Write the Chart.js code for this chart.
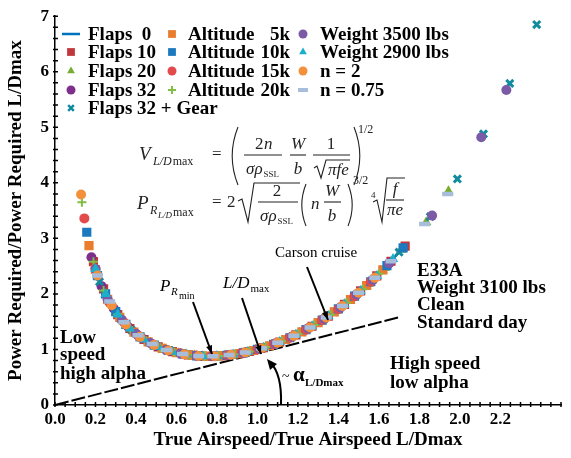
<!DOCTYPE html>
<html>
<head>
<meta charset="utf-8">
<script src="https://cdn.jsdelivr.net/npm/chart.js@4.4.0/dist/chart.umd.min.js"></script>
<style>
html, body { margin: 0; padding: 0; background: #fff; }
</style>
</head>
<body>
<canvas id="graph1" width="571" height="458"></canvas>
<script>
// tangent through L/Dmax
let tangentX = [0, 1.7];
let tangentY = [0, 1.58];

let flaps0X = [0.2,0.25,0.3,0.35,0.4,0.45,0.5,0.55,0.6,0.65,0.7,0.75,0.8,0.85,0.9,0.95,1.0,1.05,1.1,1.15,1.2,1.25,1.3,1.35,1.4,1.45,1.5,1.55,1.6,1.65,1.7];
let flaps0Y = [2.45,2.0,1.68,1.45,1.28,1.157,1.062,0.992,0.941,0.907,0.886,0.877,0.881,0.895,0.92,0.955,1.0,1.055,1.12,1.195,1.281,1.377,1.483,1.601,1.729,1.869,2.021,2.184,2.361,2.549,2.751];

let flaps10X = [0.19,0.24,0.31,0.37,0.44,0.51,0.58,0.66,0.73,0.81,0.88,0.96,1.03,1.11,1.19,1.27,1.35,1.43,1.51,1.59,1.66,1.73];
let flaps10Y = [2.58,2.09,1.628,1.377,1.179,1.047,0.96,0.901,0.879,0.883,0.909,0.963,1.032,1.134,1.263,1.418,1.601,1.812,2.053,2.324,2.588,2.86];

let flaps20X = [0.21,0.27,0.33,0.4,0.47,0.54,0.61,0.69,0.77,0.84,0.92,0.99,1.07,1.15,1.23,1.31,1.39,1.47,1.55,1.63,1.71,1.834,1.944];
let flaps20Y = [2.33,1.862,1.533,1.282,1.116,1.005,0.933,0.889,0.878,0.892,0.933,0.99,1.08,1.195,1.337,1.506,1.702,1.928,2.184,2.472,2.793,3.29,3.85];

let flaps32X = [0.18,0.23,0.29,0.36,0.43,0.5,0.57,0.64,0.72,0.79,0.87,0.94,1.02,1.09,1.17,1.25,1.33,1.41,1.49,1.57,1.65];
let flaps32Y = [2.66,2.14,1.736,1.412,1.203,1.062,0.97,0.912,0.881,0.879,0.904,0.947,1.021,1.106,1.228,1.377,1.552,1.756,1.99,2.253,2.549];

let gearX = [0.22,0.3,0.38,0.46,0.55,0.63,0.71,0.8,0.89,0.97,1.06,1.14,1.22,1.3,1.38,1.46,1.54,1.62,1.7,1.854,1.988,2.117,2.247,2.38];
let gearY = [2.22,1.68,1.343,1.136,0.992,0.919,0.883,0.881,0.914,0.972,1.067,1.179,1.318,1.483,1.676,1.899,2.151,2.434,2.751,3.39,4.07,4.88,5.79,6.85];

let alt5X = [0.168,0.2,0.26,0.32,0.39,0.46,0.53,0.6,0.68,0.75,0.83,0.91,0.98,1.06,1.14,1.22,1.3,1.38,1.46,1.54,1.62];
let alt5Y = [2.87,2.44,1.9,1.579,1.312,1.136,1.018,0.941,0.893,0.877,0.888,0.926,0.981,1.067,1.179,1.318,1.483,1.676,1.899,2.151,2.434];

let alt10X = [0.157,0.21,0.25,0.3,0.35,0.42,0.49,0.56,0.63,0.7,0.78,0.85,0.93,1.0,1.08,1.16,1.24,1.32,1.4,1.48,1.56,1.64,1.72];
let alt10Y = [3.11,2.33,2.0,1.68,1.45,1.227,1.079,0.981,0.919,0.886,0.878,0.895,0.94,1.0,1.093,1.211,1.356,1.529,1.729,1.959,2.219,2.511,2.83];

let alt15X = [0.145,0.2,0.27,0.34,0.41,0.48,0.55,0.62,0.7,0.77,0.85,0.92,1.0,1.08,1.16,1.24,1.32,1.4,1.48,1.56];
let alt15Y = [3.36,2.45,1.84,1.49,1.254,1.097,0.992,0.926,0.886,0.878,0.895,0.933,1.0,1.093,1.211,1.356,1.529,1.729,1.959,2.219];

let alt20X = [0.133,0.19,0.24,0.31,0.38,0.45,0.52,0.59,0.66,0.74,0.81,0.89,0.96,1.04,1.12,1.2,1.28,1.36,1.44,1.52,1.6];
let alt20Y = [3.65,2.58,2.06,1.628,1.343,1.157,1.032,0.95,0.901,0.878,0.883,0.914,0.963,1.043,1.149,1.281,1.439,1.625,1.84,2.085,2.361];

let w3500X = [0.2,0.26,0.33,0.4,0.47,0.55,0.62,0.7,0.78,0.86,0.93,1.01,1.09,1.17,1.25,1.33,1.41,1.49,1.57,1.65,1.863,2.106,2.23];
let w3500Y = [2.45,1.9,1.533,1.282,1.116,0.992,0.926,0.886,0.878,0.899,0.94,1.01,1.106,1.228,1.377,1.552,1.756,1.99,2.253,2.549,3.41,4.82,5.67];

let w2900X = [0.2,0.25,0.31,0.37,0.44,0.51,0.58,0.65,0.73,0.8,0.88,0.95,1.03,1.11,1.19,1.27,1.35,1.43,1.51,1.59,1.67];
let w2900Y = [2.45,2.0,1.628,1.377,1.179,1.047,0.96,0.907,0.879,0.881,0.909,0.955,1.032,1.134,1.263,1.418,1.601,1.812,2.053,2.324,2.628];

let n2X = [0.129,0.21,0.28,0.35,0.42,0.49,0.56,0.64,0.71,0.79,0.87,0.94,1.02,1.1,1.18,1.26,1.34,1.42,1.5,1.58];
let n2Y = [3.79,2.33,1.797,1.45,1.227,1.079,0.981,0.912,0.883,0.879,0.904,0.947,1.021,1.12,1.245,1.397,1.576,1.784,2.021,2.289];

let n075X = [0.21,0.27,0.34,0.41,0.48,0.55,0.63,0.71,0.78,0.86,0.94,1.02,1.1,1.18,1.26,1.34,1.42,1.5,1.58,1.66,1.826,1.94];
let n075Y = [2.33,1.862,1.49,1.254,1.097,0.992,0.919,0.883,0.878,0.899,0.947,1.021,1.12,1.245,1.397,1.576,1.784,2.021,2.289,2.588,3.26,3.8];

const serif = "'Liberation Serif', 'Times New Roman', serif";
Chart.defaults.font.family = serif;
Chart.defaults.color = '#000';

function pts(xs, ys) {
    return xs.map((x, i) => ({x: x, y: ys[i]}));
}

function marker(label, xs, ys, color, style, r, bw) {
    return {
        label: label,
        data: pts(xs, ys),
        showLine: false,
        pointStyle: style,
        pointRadius: r,
        pointBorderWidth: bw,
        pointBackgroundColor: color,
        pointBorderColor: color,
        backgroundColor: color,
        borderColor: color
    };
}

let sets = [
    marker('n = 0.75', n075X, n075Y, '#a7bddc', 'line', 5.5, 4.5),
    marker('n = 2', n2X, n2Y, '#f39039', 'circle', 5, 0),
    marker('Weight 2900 lbs', w2900X, w2900Y, '#1aafcb', 'triangle', 6, 0),
    marker('Weight 3500 lbs', w3500X, w3500Y, '#7b5aa6', 'circle', 5, 0),
    marker('Altitude 20k', alt20X, alt20Y, '#80be44', 'cross', 4.5, 2),
    marker('Altitude 15k', alt15X, alt15Y, '#e24a4c', 'circle', 5, 0),
    marker('Altitude 10k', alt10X, alt10Y, '#1b79bf', 'rect', 6.5, 0),
    marker('Altitude 5k', alt5X, alt5Y, '#e97c2f', 'rect', 6.5, 0),
    marker('Flaps 32 + Gear', gearX, gearY, '#118c9f', 'crossRot', 5, 3),
    marker('Flaps 32', flaps32X, flaps32Y, '#7e2f8e', 'circle', 5, 0),
    marker('Flaps 20', flaps20X, flaps20Y, '#77ac30', 'triangle', 6, 0),
    marker('Flaps 10', flaps10X, flaps10Y, '#c1373a', 'rect', 6.5, 0),
    {
        label: 'Flaps 0',
        data: pts(flaps0X, flaps0Y),
        showLine: true,
        borderColor: '#0072bd',
        borderWidth: 2.5,
        pointRadius: 0
    },
    {
        label: 'tangent',
        data: pts(tangentX, tangentY),
        showLine: true,
        borderColor: '#000',
        borderWidth: 2,
        borderDash: [14, 3],
        pointRadius: 0
    }
];

// legend entries, laid out in three columns like the original
let legendItems = [
    ['Flaps  0', '#0072bd', 'legline', 0, 0],
    ['Flaps 10', '#c1373a', 'rect', 0, 1],
    ['Flaps 20', '#77ac30', 'triangle', 0, 2],
    ['Flaps 32', '#7e2f8e', 'circle', 0, 3],
    ['Flaps 32 + Gear', '#118c9f', 'crossRot', 0, 4],
    ['Altitude', '#e97c2f', 'rect', 1, 0, '5k'],
    ['Altitude', '#1b79bf', 'rect', 1, 1, '10k'],
    ['Altitude', '#e24a4c', 'circle', 1, 2, '15k'],
    ['Altitude', '#80be44', 'cross', 1, 3, '20k'],
    ['Weight 3500 lbs', '#7b5aa6', 'circle', 2, 0],
    ['Weight 2900 lbs', '#1aafcb', 'triangle', 2, 1],
    ['n = 2', '#f39039', 'circle', 2, 2],
    ['n = 0.75', '#a7bddc', 'line', 2, 3]
];

function drawMarker(ctx, style, color, x, y) {
    ctx.fillStyle = color;
    ctx.strokeStyle = color;
    if (style == 'legline') {
        ctx.lineWidth = 2.5;
        ctx.beginPath();
        ctx.moveTo(x - 9, y);
        ctx.lineTo(x + 9, y);
        ctx.stroke();
        return;
    }
    let opt = {pointStyle: style, rotation: 0, radius: 4.5, borderWidth: 0};
    if (style == 'rect') opt.radius = 5.5;
    if (style == 'triangle') opt.radius = 4.5;
    if (style == 'cross') { opt.borderWidth = 2; opt.radius = 4; }
    if (style == 'crossRot') { opt.borderWidth = 2.5; opt.radius = 4; }
    if (style == 'line') { opt.borderWidth = 4; opt.radius = 5; }
    ctx.lineWidth = opt.borderWidth;
    Chart.helpers.drawPoint(ctx, opt, x, y);
}

function txt(ctx, s, x, y, font, align) {
    ctx.font = font;
    ctx.textAlign = align || 'left';
    ctx.fillText(s, x, y);
    return x + ctx.measureText(s).width;
}

function line(ctx, pts) {
    ctx.beginPath();
    ctx.moveTo(pts[0][0], pts[0][1]);
    for (let i = 1; i < pts.length; i++) ctx.lineTo(pts[i][0], pts[i][1]);
    ctx.stroke();
}

function paren(ctx, x, y1, y2, dir) {
    ctx.beginPath();
    ctx.moveTo(x, y1);
    ctx.quadraticCurveTo(x + dir * (y2 - y1) * 0.2, (y1 + y2) / 2, x, y2);
    ctx.stroke();
}

function arrow(ctx, x1, y1, x2, y2) {
    ctx.lineWidth = 2;
    line(ctx, [[x1, y1], [x2, y2]]);
    let a = Math.atan2(y2 - y1, x2 - x1);
    ctx.beginPath();
    ctx.moveTo(x2, y2);
    ctx.lineTo(x2 - 9 * Math.cos(a - 0.35), y2 - 9 * Math.sin(a - 0.35));
    ctx.lineTo(x2 - 9 * Math.cos(a + 0.35), y2 - 9 * Math.sin(a + 0.35));
    ctx.closePath();
    ctx.fill();
}

const extras = {
    id: 'extras',
    afterDraw(chart) {
        const ctx = chart.ctx;
        const a = chart.chartArea;
        const xs = chart.scales.x, ys = chart.scales.y;
        ctx.save();

        // small inward ticks
        ctx.strokeStyle = '#000';
        ctx.lineWidth = 1.5;
        ctx.beginPath();
        for (let i = 0; i <= 50; i++) {
            let px = xs.getPixelForValue(i * 0.05);
            ctx.moveTo(px, a.bottom + 2);
            ctx.lineTo(px, a.bottom - 3);
        }
        for (let i = 0; i <= 35; i++) {
            let py = ys.getPixelForValue(i * 0.2);
            ctx.moveTo(a.left - 2, py);
            ctx.lineTo(a.left + 3, py);
        }
        ctx.stroke();

        // legend
        const colX = [71, 172, 303];
        const txtX = [88, 188, 320];
        const rowY = [34, 52, 71, 90, 108];
        const bold = 'bold 19px ' + serif;
        ctx.textBaseline = 'middle';
        legendItems.forEach(it => {
            drawMarker(ctx, it[2], it[1], colX[it[3]], rowY[it[4]]);
            ctx.fillStyle = '#000';
            txt(ctx, it[0], txtX[it[3]], rowY[it[4]] + 1, bold);
            if (it[5]) txt(ctx, it[5], 290, rowY[it[4]] + 1, bold, 'right');
        });

        // equations
        ctx.textBaseline = 'alphabetic';
        ctx.fillStyle = '#222';
        ctx.strokeStyle = '#222';
        ctx.lineWidth = 1.1;
        const it19 = 'italic 19px ' + serif;
        const it17 = 'italic 17px ' + serif;
        const rm17 = '17px ' + serif;
        const it12 = 'italic 12px ' + serif;
        const rm12 = '12px ' + serif;
        const rm9 = '9px ' + serif;
        let e;

        txt(ctx, 'V', 139, 160, it19);
        e = txt(ctx, 'L/D', 153, 165, it12);
        txt(ctx, 'max', e + 1, 165, rm12);
        txt(ctx, '=', 212, 159, rm17);
        paren(ctx, 238, 127, 185, -1);
        txt(ctx, '2', 255, 149, rm17);
        txt(ctx, 'n', 264, 149, it17);
        line(ctx, [[244, 155], [282, 155]]);
        e = txt(ctx, 'σρ', 246, 174, it17);
        txt(ctx, 'SSL', e + 1, 177, rm9);
        txt(ctx, 'W', 298, 149, it17, 'center');
        line(ctx, [[290, 155], [306, 155]]);
        txt(ctx, 'b', 298, 174, it17, 'center');
        txt(ctx, '1', 331, 149, rm17, 'center');
        line(ctx, [[313, 155], [350, 155]]);
        line(ctx, [[314, 168], [317, 166], [321, 178], [326, 160], [350, 160]]);
        txt(ctx, 'πfe', 328, 175, it17);
        paren(ctx, 354, 127, 185, 1);
        txt(ctx, '1/2', 358, 133, rm12);

        txt(ctx, 'P', 137, 209, it19);
        txt(ctx, 'R', 150, 214, it12);
        e = txt(ctx, 'L/D', 158, 218, 'italic 9px ' + serif);
        txt(ctx, 'max', e + 1, 216, rm12);
        txt(ctx, '=', 212, 207, rm17);
        txt(ctx, '2', 227, 207, rm17);
        line(ctx, [[238, 201], [242, 199], [248, 222], [254, 183], [300, 183]]);
        txt(ctx, '2', 277, 196, rm17, 'center');
        line(ctx, [[258, 202], [298, 202]]);
        e = txt(ctx, 'σρ', 260, 221, it17);
        txt(ctx, 'SSL', e + 1, 224, rm9);
        paren(ctx, 306, 184, 226, -1);
        txt(ctx, 'n', 311, 209, it17);
        txt(ctx, 'W', 332, 196, it17, 'center');
        line(ctx, [[324, 202], [341, 202]]);
        txt(ctx, 'b', 332, 221, it17, 'center');
        paren(ctx, 348, 184, 226, 1);
        txt(ctx, '3/2', 353, 184, rm12);
        txt(ctx, '4', 371, 198, rm9);
        line(ctx, [[373, 202], [377, 200], [382, 222], [387, 178], [405, 178]]);
        txt(ctx, 'f', 395, 194, it17, 'center');
        line(ctx, [[386, 200], [404, 200]]);
        txt(ctx, 'πe', 395, 215, it17, 'center');

        // annotations
        ctx.fillStyle = '#000';
        ctx.strokeStyle = '#000';
        txt(ctx, 'Carson cruise', 275, 257, '15px ' + serif);
        txt(ctx, 'P', 160, 291, 'italic 17px ' + serif);
        txt(ctx, 'R', 171, 295, 'italic 11px ' + serif);
        txt(ctx, 'min', 179, 299, '10px ' + serif);
        e = txt(ctx, 'L/D', 223, 288, 'italic 17px ' + serif);
        txt(ctx, 'max', e + 1, 292, '11px ' + serif);
        arrow(ctx, 193, 302, 212, 354);
        arrow(ctx, 242, 298, 261, 354);
        arrow(ctx, 307, 267, 328, 320);

        // angle arc
        ctx.lineWidth = 2;
        ctx.beginPath();
        ctx.moveTo(281, 404);
        ctx.quadraticCurveTo(282, 374, 270, 362);
        ctx.stroke();
        ctx.beginPath();
        ctx.moveTo(267, 359);
        ctx.lineTo(277, 364);
        ctx.lineTo(270, 370);
        ctx.closePath();
        ctx.fill();
        txt(ctx, '~', 282, 381, '14px ' + serif);
        txt(ctx, 'α', 293, 381, 'bold 21px ' + serif);
        txt(ctx, 'L/Dmax', 305, 386, 'bold 11px ' + serif);

        const b19 = 'bold 19px ' + serif;
        txt(ctx, 'Low', 60, 343, b19);
        txt(ctx, 'speed', 60, 360, b19);
        txt(ctx, 'high alpha', 60, 379, b19);
        txt(ctx, 'E33A', 417, 276, b19);
        txt(ctx, 'Weight 3100 lbs', 417, 293, b19);
        txt(ctx, 'Clean', 417, 310, b19);
        txt(ctx, 'Standard day', 417, 328, b19);
        txt(ctx, 'High speed', 390, 369, b19);
        txt(ctx, 'low alpha', 390, 388, b19);

        ctx.restore();
    }
};

const ctx = document.getElementById('graph1').getContext('2d');
let myChart = new Chart(ctx, {
    type: 'scatter',
    data: { datasets: sets },
    options: {
        responsive: false,
        animation: false,
        events: [],
        layout: { padding: { top: 15, right: 1, left: 0, bottom: 0 } },
        plugins: { legend: { display: false }, tooltip: { enabled: false } },
        scales: {
            x: {
                type: 'linear',
                min: 0,
                max: 2.5,
                afterBuildTicks: s => { s.ticks = s.ticks.filter(t => t.value < 2.45); },
                afterFit: s => { s.height = 53; },
                grid: { display: false, drawTicks: false },
                border: { display: true, color: '#000', width: 1.5 },
                ticks: {
                    stepSize: 0.2,
                    padding: 4,
                    maxRotation: 0,
                    font: { size: 17, weight: 'bold' },
                    callback: v => v.toFixed(1)
                },
                title: {
                    display: true,
                    text: 'True Airspeed/True Airspeed L/Dmax',
                    font: { size: 19, weight: 'bold' },
                    padding: { top: 0, bottom: 7 }
                }
            },
            y: {
                min: 0,
                max: 7,
                afterFit: s => { s.width = 55; },
                grid: { display: false, drawTicks: false },
                border: { display: true, color: '#000', width: 1.5 },
                ticks: {
                    stepSize: 1,
                    padding: 6,
                    font: { size: 17, weight: 'bold' }
                },
                title: {
                    display: true,
                    text: 'Power Required/Power Required L/Dmax',
                    font: { size: 19, weight: 'bold' },
                    padding: { top: 5, bottom: 0 }
                }
            }
        }
    },
    plugins: [extras]
});
</script>
</body>
</html>
